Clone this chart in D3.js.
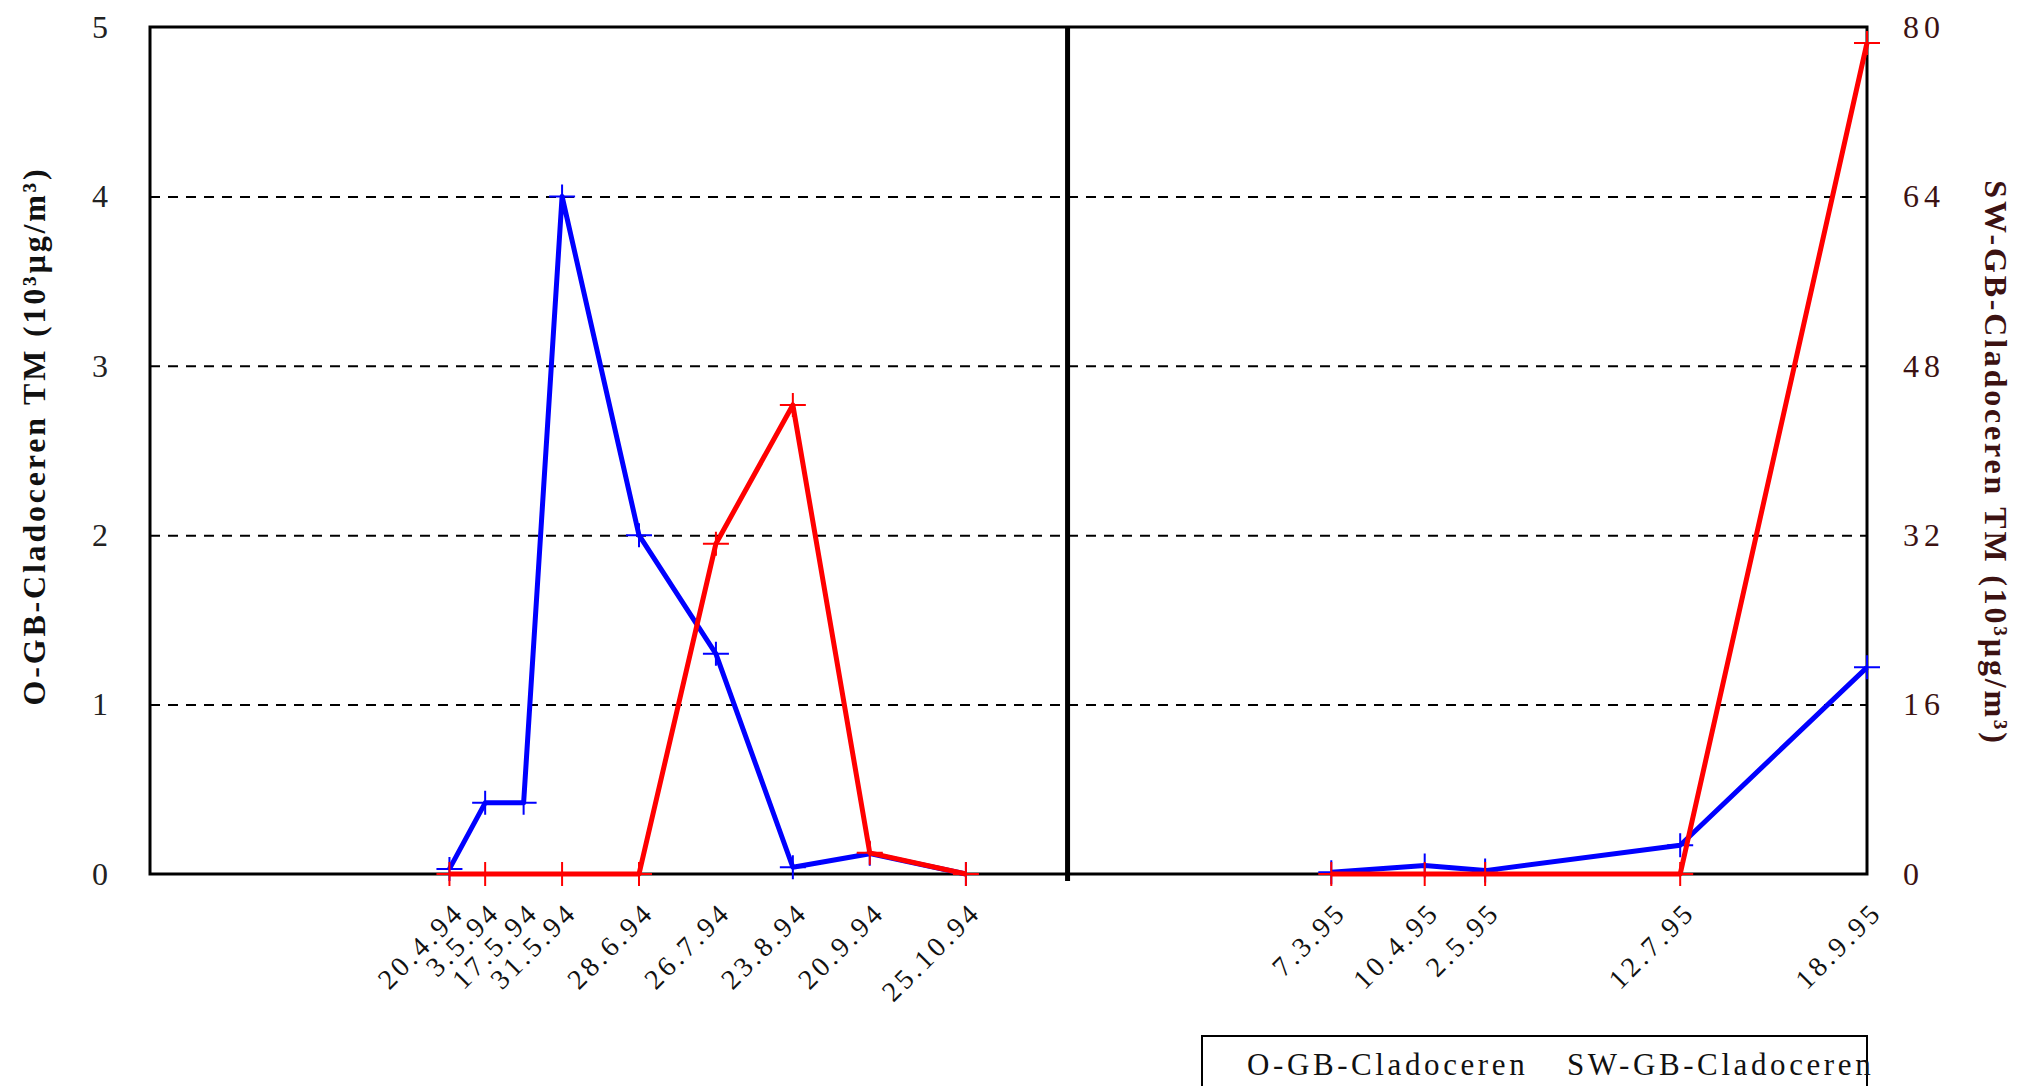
<!DOCTYPE html>
<html>
<head>
<meta charset="utf-8">
<script src="https://cdn.jsdelivr.net/npm/d3@7"></script>
<style>
  body { margin: 0; background: #fff; }
  svg { display: block; font-family: "Liberation Serif", "DejaVu Serif", serif; }
</style>
</head>
<body>
<svg id="chart" width="2018" height="1086"></svg>
<script>
// sampling dates, 1994 and 1995 seasons
const dates94 = ['20.4.94', '3.5.94', '17.5.94', '31.5.94', '28.6.94', '26.7.94', '23.8.94', '20.9.94', '25.10.94'];
const dates95 = ['7.3.95', '10.4.95', '2.5.95', '12.7.95', '18.9.95'];

// O-GB-Cladoceren, left axis (10^3 µg/m^3)
const ogb94 = [0.03, 0.42, 0.42, 4.0, 2.0, 1.3, 0.04, 0.12, 0];
const ogb95 = [0.01, 0.05, 0.02, 0.17, 1.22];

// SW-GB-Cladoceren, right axis (10^3 µg/m^3); no sample on 17.5.94
const swgb94 = [0, 0, null, 0, 0, 31.2, 44.3, 2.0, 0];
const swgb95 = [0, 0, 0, 0, 78.5];

const leftTicks = [0, 1, 2, 3, 4, 5];
const rightTicks = [0, 16, 32, 48, 64, 80];
const gridTicks = [1, 2, 3, 4];

const seriesNames = ['O-GB-Cladoceren', 'SW-GB-Cladoceren'];
const seasonBreak = '1.12.94';

const config = {
    colors: { blue: '#0000ff', red: '#ff0000', axisRight: '#3c1212' },
    plot: { left: 150, right: 1867, top: 27, bottom: 874 }
};

const parseDate = d3.timeParse('%d.%m.%y');
const svg = d3.select('#chart');
const plot = config.plot;

const x = d3.scaleTime()
    .domain([parseDate('1.1.94'), parseDate('18.9.95')])
    .range([plot.left, plot.right]);
const yLeft = d3.scaleLinear().domain([0, 5]).range([plot.bottom, plot.top]);
const yRight = d3.scaleLinear().domain([0, 80]).range([plot.bottom, plot.top]);

svg.append('rect').attr('width', 2018).attr('height', 1086).attr('fill', '#fff');

// dashed gridlines
svg.append('g')
    .attr('transform', `translate(${plot.left},0)`)
    .call(d3.axisLeft(yLeft).tickValues(gridTicks).tickSize(-(plot.right - plot.left)).tickFormat(''))
    .call((g) => g.select('.domain').remove())
    .selectAll('line')
    .attr('stroke', '#000')
    .attr('stroke-width', 2)
    .attr('stroke-dasharray', '10,8');

// left tick labels
svg.append('g')
    .attr('transform', `translate(${plot.left - 42},0)`)
    .call(d3.axisLeft(yLeft).tickValues(leftTicks).tickFormat(d3.format('d')).tickSize(0).tickPadding(0))
    .call((g) => g.select('.domain').remove())
    .selectAll('text')
    .attr('font-family', '"Liberation Serif", serif')
    .attr('font-size', 32)
    .attr('fill', '#222');

// right tick labels
svg.append('g')
    .attr('transform', `translate(${plot.right + 36},0)`)
    .call(d3.axisRight(yRight).tickValues(rightTicks).tickSize(0).tickPadding(0))
    .call((g) => g.select('.domain').remove())
    .selectAll('text')
    .attr('font-family', '"Liberation Serif", serif')
    .attr('font-size', 32)
    .attr('letter-spacing', 5)
    .attr('fill', config.colors.axisRight);

// date labels, rotated
function renderDateLabels(labels) {
    const axis = d3.axisBottom(x)
        .tickValues(labels.map(parseDate))
        .tickFormat((d, i) => labels[i])
        .tickSize(0);

    svg.append('g')
        .attr('transform', `translate(0,${plot.bottom})`)
        .call(axis)
        .call((g) => g.select('.domain').remove())
        .selectAll('text')
        .attr('font-family', '"Liberation Serif", serif')
        .attr('font-size', 28)
        .attr('letter-spacing', 3.5)
        .attr('fill', '#111')
        .attr('text-anchor', 'end')
        .attr('dy', 0)
        .attr('y', 0)
        .attr('transform', 'translate(16,40) rotate(-45)');
}
renderDateLabels(dates94);
renderDateLabels(dates95);

// plot frame
svg.append('rect')
    .attr('x', plot.left)
    .attr('y', plot.top)
    .attr('width', plot.right - plot.left)
    .attr('height', plot.bottom - plot.top)
    .attr('fill', 'none')
    .attr('stroke', '#000')
    .attr('stroke-width', 3);

// season divider
svg.append('line')
    .attr('x1', x(parseDate(seasonBreak)))
    .attr('x2', x(parseDate(seasonBreak)))
    .attr('y1', plot.top)
    .attr('y2', plot.bottom + 7)
    .attr('stroke', '#000')
    .attr('stroke-width', 5);

function renderSeries(labels, values, yScale, color) {
    const points = labels
        .map((label, i) => ({ date: parseDate(label), value: values[i] }))
        .filter((d) => d.value !== null);

    const line = d3.line().x((d) => x(d.date)).y((d) => yScale(d.value));

    svg.append('path')
        .datum(points)
        .attr('d', line)
        .attr('fill', 'none')
        .attr('stroke', color)
        .attr('stroke-width', 5)
        .attr('stroke-linejoin', 'round');

    svg.append('g').selectAll('path')
        .data(points)
        .enter()
        .append('path')
        .attr('d', (d) => {
            const px = x(d.date);
            const py = yScale(d.value);
            return `M${px - 13},${py}H${px + 13}M${px},${py - 12}V${py + 12}`;
        })
        .attr('stroke', color)
        .attr('stroke-width', 2)
        .attr('fill', 'none');
}

renderSeries(dates94, ogb94, yLeft, config.colors.blue);
renderSeries(dates95, ogb95, yLeft, config.colors.blue);
renderSeries(dates94, swgb94, yRight, config.colors.red);
renderSeries(dates95, swgb95, yRight, config.colors.red);

// axis titles
svg.append('text')
    .attr('transform', 'translate(45,436) rotate(-90)')
    .attr('text-anchor', 'middle')
    .attr('font-size', 32)
    .attr('letter-spacing', 2.8)
    .attr('font-weight', 'bold')
    .attr('fill', '#111')
    .text('O-GB-Cladoceren TM (10³µg/m³)');

svg.append('text')
    .attr('transform', 'translate(1985,463) rotate(90)')
    .attr('text-anchor', 'middle')
    .attr('font-size', 32)
    .attr('letter-spacing', 2.8)
    .attr('font-weight', 'bold')
    .attr('fill', config.colors.axisRight)
    .text('SW-GB-Cladoceren TM (10³µg/m³)');

// legend
const legend = svg.append('g');
legend.append('rect')
    .attr('x', 1202)
    .attr('y', 1036)
    .attr('width', 665)
    .attr('height', 80)
    .attr('fill', '#fff')
    .attr('stroke', '#000')
    .attr('stroke-width', 2);

legend.selectAll('text')
    .data(seriesNames)
    .enter()
    .append('text')
    .attr('x', (d, i) => [1247, 1567][i])
    .attr('y', 1075)
    .attr('font-size', 31)
    .attr('letter-spacing', 3.6)
    .attr('fill', '#111')
    .text((d) => d);
</script>
</body>
</html>
